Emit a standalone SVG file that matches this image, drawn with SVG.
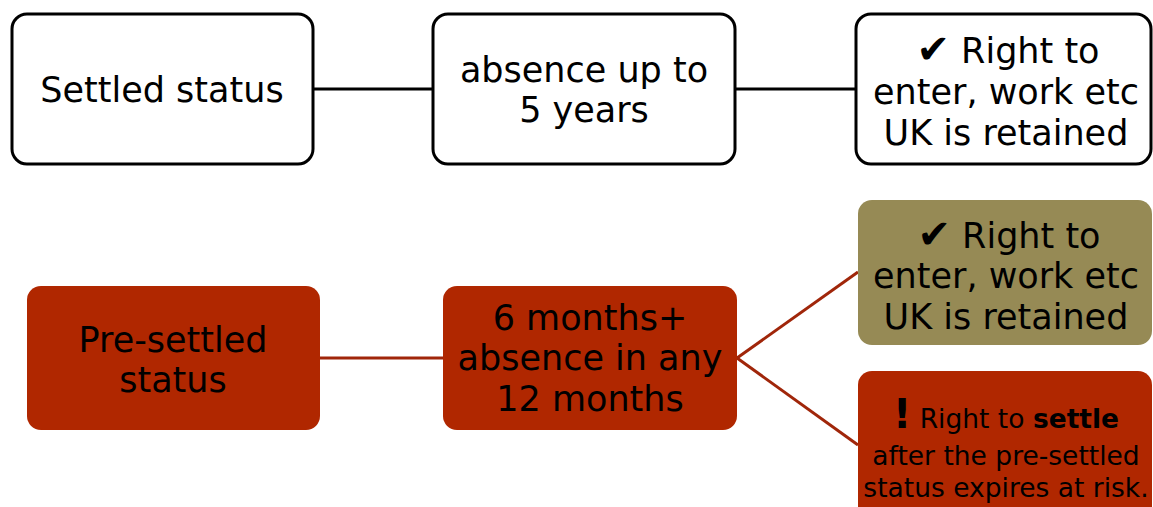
<svg xmlns="http://www.w3.org/2000/svg" width="1153" height="507" viewBox="0 0 1153 507">
<style>
.w{fill:#fff;stroke:#000;stroke-width:3}
.r{fill:#B02700}
.o{fill:#968A55}
text{font-family:"DejaVu Sans","Liberation Sans",sans-serif;fill:#000;text-anchor:middle}
.t36{font-size:35px}
.t28{font-size:26.5px}
.ck{font-size:40px}
.cb{stroke:#000;stroke-width:3;fill:none}
.cr{stroke:#A0260A;stroke-width:3;fill:none}
</style>
<rect width="1153" height="507" fill="#fff"/>
<g id="connectors">
<line class="cb" x1="313" y1="89" x2="433" y2="89"/>
<line class="cb" x1="735" y1="89" x2="856" y2="89"/>
<line class="cr" x1="320" y1="358" x2="443" y2="358"/>
<line class="cr" x1="737" y1="358" x2="858" y2="272"/>
<line class="cr" x1="737" y1="358" x2="858" y2="445"/>
</g>
<g id="settled">
<rect class="w" x="12" y="14" width="301" height="150" rx="15"/>
<text class="t36" x="162" y="102">Settled status</text>
</g>
<g id="absence5">
<rect class="w" x="433" y="14" width="302" height="150" rx="15"/>
<text class="t36" x="584" y="82">absence up to</text>
<text class="t36" x="584" y="122">5 years</text>
</g>
<g id="retained1">
<rect class="w" x="856" y="14" width="295" height="150" rx="15"/>
<text class="t36" x="1008" y="63"><tspan class="ck">✔</tspan> Right to</text>
<text class="t36" x="1006" y="104">enter, work etc</text>
<text class="t36" x="1006" y="145">UK is retained</text>
</g>
<g id="presettled">
<rect class="r" x="27" y="286" width="293" height="144" rx="14"/>
<text class="t36" x="173" y="352">Pre-settled</text>
<text class="t36" x="173" y="392">status</text>
</g>
<g id="months6">
<rect class="r" x="443" y="286" width="294" height="144" rx="14"/>
<text class="t36" x="590" y="330">6 months+</text>
<text class="t36" x="590" y="370">absence in any</text>
<text class="t36" x="590" y="411">12 months</text>
</g>
<g id="retained2">
<rect class="o" x="858" y="200" width="294" height="145" rx="14"/>
<text class="t36" x="1009" y="248"><tspan class="ck">✔</tspan> Right to</text>
<text class="t36" x="1006" y="288">enter, work etc</text>
<text class="t36" x="1006" y="329">UK is retained</text>
</g>
<g id="settle-risk">
<rect class="r" x="858" y="371" width="294" height="150" rx="14"/>
<text class="t28" x="1006" y="428"><tspan font-size="40px" font-weight="bold">!</tspan> Right to <tspan font-weight="bold">settle</tspan></text>
<text class="t28" x="1006" y="465">after the pre-settled</text>
<text class="t28" x="1006" y="497">status expires at risk.</text>
</g>
</svg>
